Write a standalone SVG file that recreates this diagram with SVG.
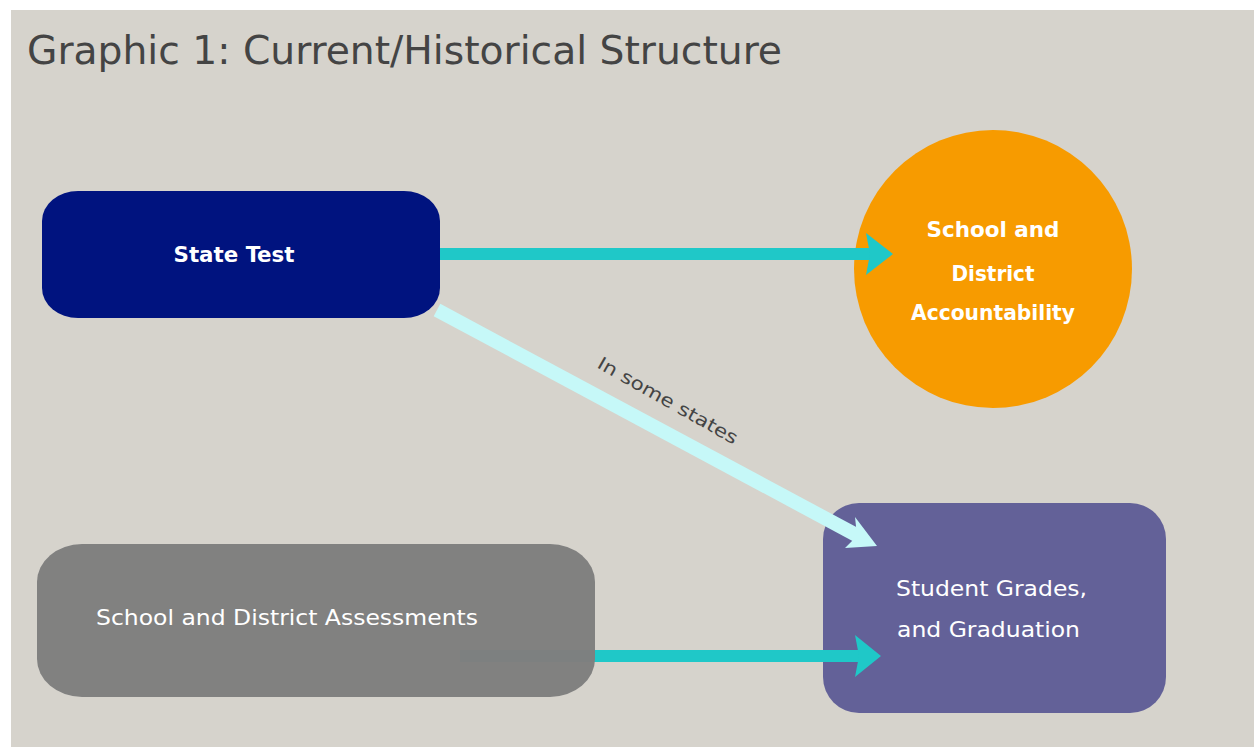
<svg xmlns="http://www.w3.org/2000/svg" width="1254" height="747" viewBox="0 0 1254 747">
<defs>
<style>
.lbl{font-family:"DejaVu Sans Condensed","DejaVu Sans",sans-serif;fill:#ffffff;font-size:22px}
.b{font-weight:bold}
.title{font-family:"DejaVu Sans Condensed","DejaVu Sans",sans-serif;fill:#444444;font-size:39px}
.note{font-family:"DejaVu Sans","Liberation Sans",sans-serif;fill:#444444;font-size:18px}
.c1{stroke:#1fc8c8;stroke-width:12;fill:none}
.c2{stroke:#c6f8f8;stroke-width:14;fill:none}
</style>
</defs>
<rect x="0" y="0" width="1254" height="747" fill="#ffffff"/>
<rect x="11" y="10" width="1243" height="737" fill="#d6d3cc"/>
<text class="title" x="27" y="64" textLength="755" lengthAdjust="spacingAndGlyphs">Graphic 1: Current/Historical Structure</text>

<g id="state-test">
<rect x="42" y="191" width="398" height="127" rx="36" ry="30" fill="#00137f"/>
<text class="lbl b" x="234" y="262" text-anchor="middle" textLength="121" lengthAdjust="spacingAndGlyphs">State Test</text>
</g>

<g id="accountability">
<ellipse cx="993" cy="269" rx="139" ry="139" fill="#f79b00"/>
<text class="lbl b" x="993" y="237" text-anchor="middle" textLength="133" lengthAdjust="spacingAndGlyphs">School  and</text>
<text class="lbl b" x="993" y="281" text-anchor="middle" textLength="83" lengthAdjust="spacingAndGlyphs">District</text>
<text class="lbl b" x="993" y="320" text-anchor="middle" textLength="164" lengthAdjust="spacingAndGlyphs">Accountability</text>
</g>

<g id="grades">
<rect x="823" y="503" width="343" height="210" rx="36" ry="36" fill="#636198"/>
<text class="lbl" x="896" y="596" textLength="191" lengthAdjust="spacingAndGlyphs">Student Grades,</text>
<text class="lbl" x="897" y="637" textLength="183" lengthAdjust="spacingAndGlyphs">and Graduation</text>
</g>

<g id="connectors">
<line class="c1" x1="440" y1="254" x2="880" y2="254"/>
<polygon points="893,254 866,233 870,254 866,275" fill="#1fc8c8"/>
<line class="c2" x1="437" y1="310" x2="860" y2="537"/>
<polygon points="877,546 845,548 857,536 855,517" fill="#c6f8f8"/>
<text class="note" transform="translate(596,367) rotate(29.5)" textLength="158" lengthAdjust="spacingAndGlyphs">In some states</text>
<line class="c1" x1="460" y1="656" x2="868" y2="656"/>
<polygon points="881,656 855,635 859,656 855,677" fill="#1fc8c8"/>
</g>

<g id="assessments">
<rect x="37" y="544" width="558" height="153" rx="45" ry="38" fill="#7f7f7f" fill-opacity="0.985"/>
<text class="lbl" x="96" y="625" textLength="382" lengthAdjust="spacingAndGlyphs" style="font-weight:500">School and District Assessments</text>
</g>
</svg>
